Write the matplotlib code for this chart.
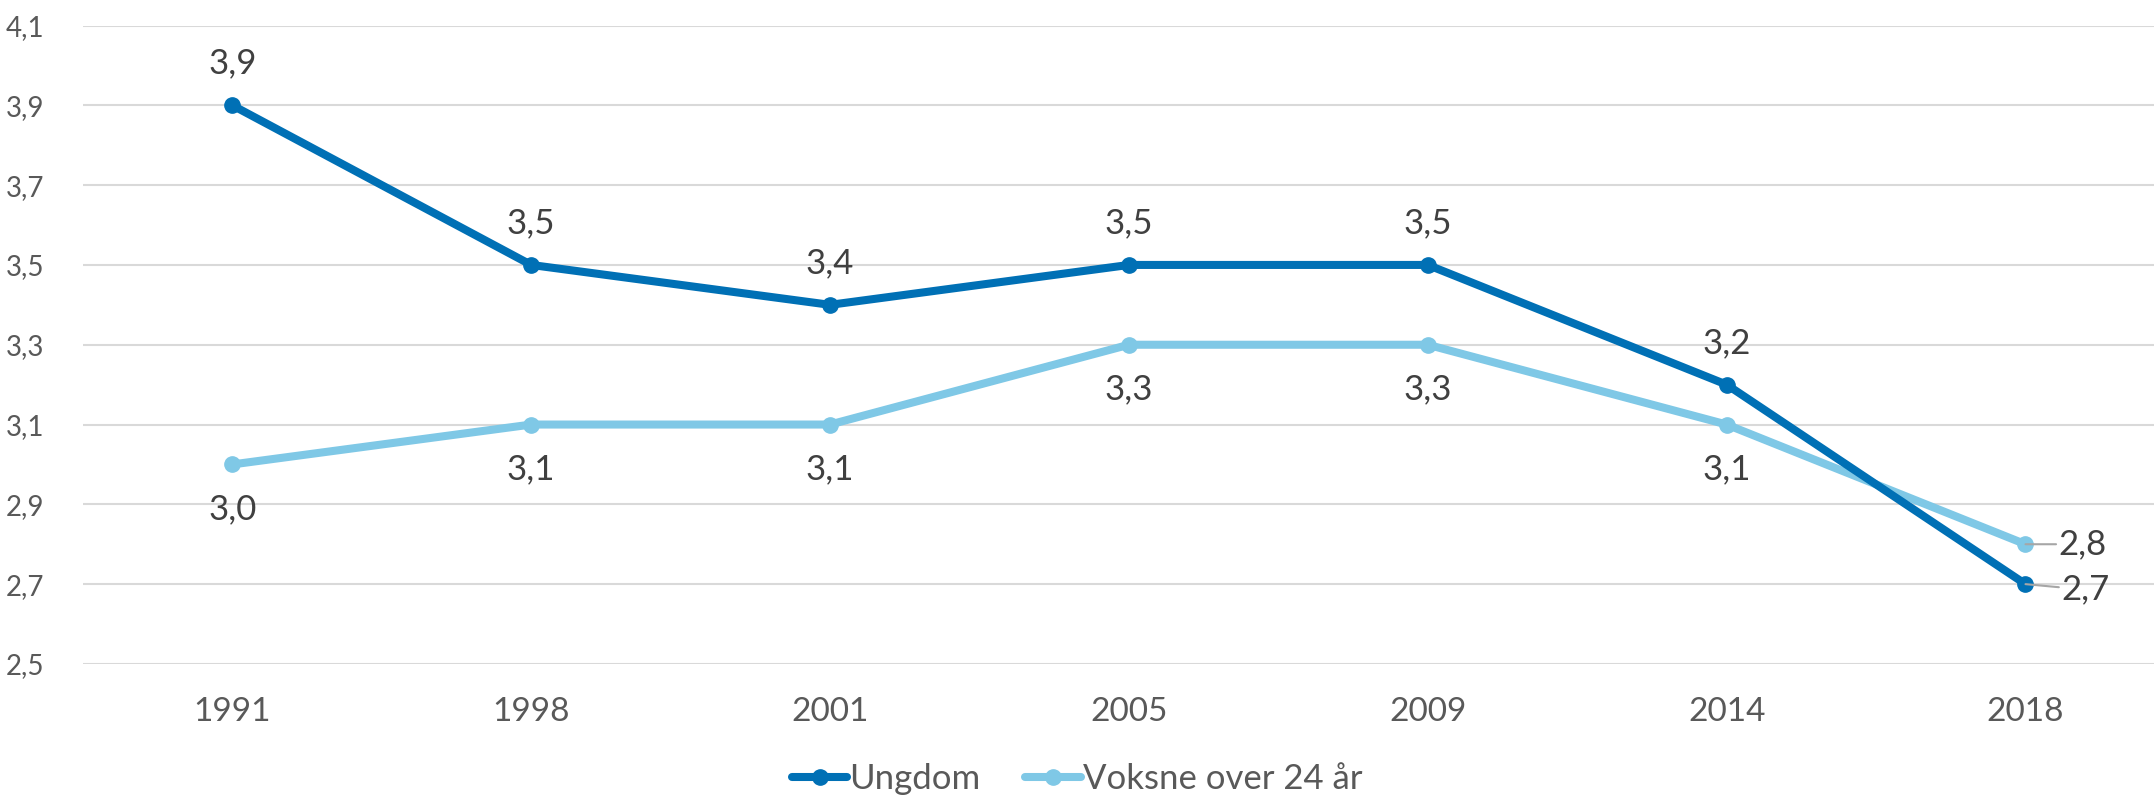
import matplotlib.pyplot as plt
import numpy as np

# data
years = ["1991", "1998", "2001", "2005", "2009", "2014", "2018"]
ungdom = [3.9, 3.5, 3.4, 3.5, 3.5, 3.2, 2.7]
voksne = [3.0, 3.1, 3.1, 3.3, 3.3, 3.1, 2.8]
yticks = [2.5, 2.7, 2.9, 3.1, 3.3, 3.5, 3.7, 3.9, 4.1]

dark = "#0070b5"
light = "#7fc8e6"
grey = "#595959"

plt.rcParams["font.family"] = ["Lato", "DejaVu Sans"]

fig = plt.figure(figsize=(21.54, 7.98), dpi=100)
ax = fig.add_axes([0.0385, 0.168, 0.9615, 0.8])

x = np.arange(len(years))
ax.plot(x, ungdom, color=dark, lw=5.8, marker="o", ms=11, label="Ungdom",
        solid_capstyle="round", zorder=3)
ax.plot(x, voksne, color=light, lw=5.8, marker="o", ms=11, label="Voksne over 24 år",
        solid_capstyle="round", zorder=2)

def fmt(v):
    return f"{v:.1f}".replace(".", ",")

# data labels: Ungdom above, Voksne below (except the last point)
for i in range(len(years) - 1):
    ax.annotate(fmt(ungdom[i]), (x[i], ungdom[i]), xytext=(0, 30), textcoords="offset points",
                ha="center", va="center", fontsize=25, color="#404040")
    ax.annotate(fmt(voksne[i]), (x[i], voksne[i]), xytext=(0, -32), textcoords="offset points",
                ha="center", va="center", fontsize=25, color="#404040")

# last points: labels to the right with short leader lines
last = len(years) - 1
ax.annotate(fmt(voksne[last]), (x[last], voksne[last]), xytext=(24, 0), textcoords="offset points",
            ha="left", va="center", fontsize=25, color="#404040",
            arrowprops=dict(arrowstyle="-", color="#a6a6a6", lw=1.5, shrinkA=0, shrinkB=0))
ax.annotate(fmt(ungdom[last]), (x[last], ungdom[last]), xytext=(26, -4), textcoords="offset points",
            ha="left", va="center", fontsize=25, color="#404040",
            arrowprops=dict(arrowstyle="-", color="#a6a6a6", lw=1.5, shrinkA=0, shrinkB=0))

ax.set_xlim(-0.5, 6.43)
ax.set_ylim(2.5, 4.1)
ax.set_xticks(x)
ax.set_xticklabels(years)
ax.set_yticks(yticks)
ax.set_yticklabels([fmt(v) for v in yticks])
ax.tick_params(axis="x", labelsize=24, colors=grey, length=0, pad=24)
ax.tick_params(axis="y", labelsize=20, colors=grey, length=0, pad=28)
ax.yaxis.grid(True, color="#d9d9d9", lw=1.5)
ax.set_axisbelow(True)
for s in ax.spines.values():
    s.set_visible(False)

leg = fig.legend(loc="lower center", bbox_to_anchor=(0.5, -0.035), ncol=2, frameon=False,
                 fontsize=25, handlelength=1.6, handletextpad=0.05, columnspacing=1.3,
                 labelcolor=grey)

fig.savefig("out.png", dpi=100)
